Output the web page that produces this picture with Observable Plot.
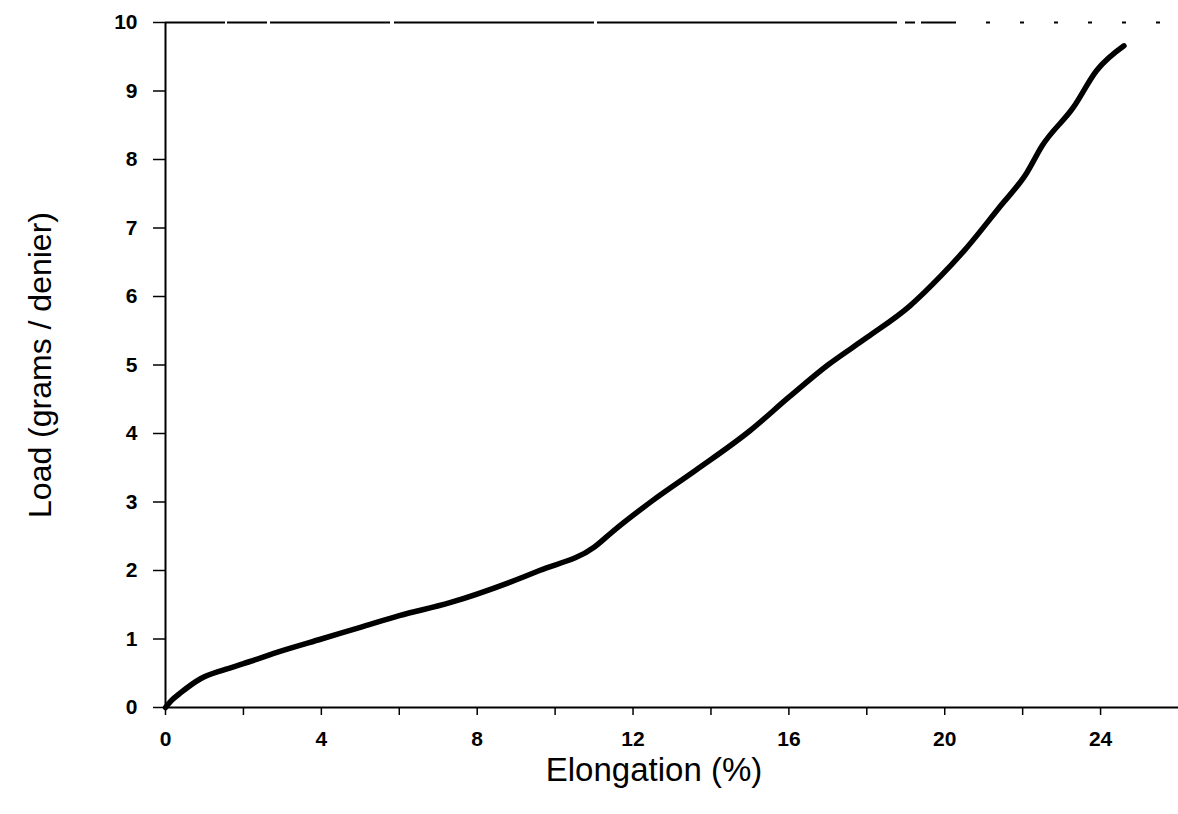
<!DOCTYPE html>
<html>
<head>
<meta charset="utf-8">
<script src="https://cdn.jsdelivr.net/npm/d3@7"></script>
<script src="https://cdn.jsdelivr.net/npm/@observablehq/plot@0.6"></script>
<style>
  html, body { margin: 0; padding: 0; background: #fff; }
</style>
</head>
<body>
<div id="chart"></div>
<script>
// Data
const elongation = [0, 0.15, 0.4, 0.9, 1.5, 2, 3, 4, 5, 6, 7.3, 8.8, 9.6, 11, 11.5, 12.5, 13.6, 15, 16, 17, 18, 19.1, 19.9, 20.5, 21.4, 22.1, 22.5, 23.3, 23.9, 24.6];
const load =       [0, 0.1, 0.22, 0.42, 0.55, 0.64, 0.83, 1.0, 1.17, 1.34, 1.53, 1.82, 2.0, 2.34, 2.58, 3.02, 3.46, 4.04, 4.53, 5.0, 5.40, 5.86, 6.3, 6.67, 7.3, 7.8, 8.2, 8.76, 9.3, 9.66];

const xTicks = [0, 2, 4, 6, 8, 10, 12, 14, 16, 18, 20, 22, 24];
const xTickLabels = [0, 4, 8, 12, 16, 20, 24];
const yTicks = [0, 1, 2, 3, 4, 5, 6, 7, 8, 9, 10];
const xDomain = [0, 26];
const yDomain = [0, 10];
const xLabel = "Elongation (%)";
const yLabel = "Load (grams / denier)";
// top frame border: solid part, then sparse dotted part (in data units of x)
const topSolid = [{x1: 0, x2: 20.2}];
const topDotted = [{x1: 20.2, x2: 26}];

const data = elongation.map((e, i) => ({e, l: load[i]}));

const chart = Plot.plot({
  width: 1178,
  height: 814,
  marginLeft: 165,
  marginRight: 0,
  marginTop: 22,
  marginBottom: 107,
  x: {domain: xDomain},
  y: {domain: yDomain},
  style: {fontFamily: "'Liberation Sans', Arial, sans-serif", background: "#fff", color: "#000"},
  marks: [
    Plot.axisX({
      ticks: xTicks,
      tickSize: 8,
      tickPadding: 16,
      strokeWidth: 1.5,
      tickFormat: d => xTickLabels.includes(d) ? String(d) : "",
      fontSize: 21,
      fontWeight: "bold",
      label: null
    }),
    Plot.axisY({
      ticks: yTicks,
      tickSize: 12,
      tickPadding: 16,
      strokeWidth: 1.5,
      fontSize: 21,
      fontWeight: "bold",
      label: null
    }),
    Plot.ruleX([0], {y1: yDomain[0], y2: yDomain[1], stroke: "#000", strokeWidth: 2}),
    Plot.ruleY([0], {x1: xDomain[0], x2: xDomain[1], stroke: "#000", strokeWidth: 2}),
    Plot.ruleY(topSolid, {y: () => yDomain[1], x1: "x1", x2: "x2", stroke: "#000", strokeWidth: 2, strokeDasharray: "60,2,40,3,120,4,200,3,300,8,10,6"}),
    Plot.ruleY(topDotted, {y: () => yDomain[1], x1: "x1", x2: "x2", stroke: "#000", strokeWidth: 2, strokeDasharray: "4,30"}),
    Plot.line(data, {x: "e", y: "l", stroke: "#000", strokeWidth: 5.5, strokeLinecap: "round", strokeLinejoin: "round", curve: "monotone-x"}),
    Plot.text([xLabel], {frameAnchor: "bottom", textAnchor: "middle", dx: -18, dy: 73, fontSize: 33, letterSpacing: 2, fill: "#000"}),
    Plot.text([yLabel], {frameAnchor: "left", textAnchor: "middle", lineAnchor: "middle", dx: -125, rotate: -90, fontSize: 32, fill: "#000"})
  ]
});
document.getElementById("chart").appendChild(chart);
</script>
</body>
</html>
